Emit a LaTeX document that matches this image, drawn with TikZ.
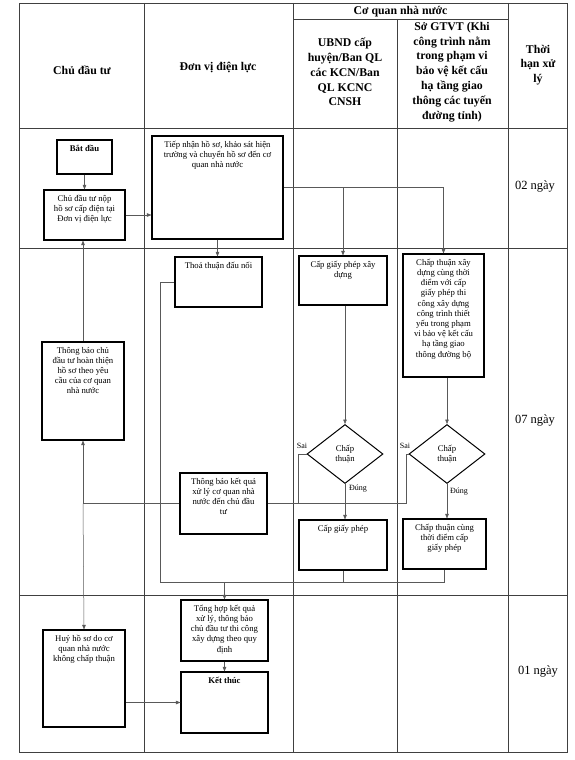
\documentclass[tikz,border=0pt]{standalone}
\usepackage{fontspec}
\setmainfont{Liberation Serif}
\usetikzlibrary{shapes.geometric,arrows.meta}

\newcommand{\boxtext}[3]{\parbox[c][#2][t]{#1}{\centering #3}}

\tikzset{
  tablerule/.style={draw=black!75, line width=0.8pt},
  headtext/.style={font=\fontsize{11.8}{14.8}\selectfont\bfseries, align=center, inner sep=0pt},
  daytext/.style={font=\fontsize{12.5}{15}\selectfont, inner sep=0pt},
  procbox/.style={draw, line width=1.1pt, inner xsep=3pt, inner ysep=5pt,
    font=\fontsize{8.7}{10.2}\selectfont},
  decision/.style={draw, line width=1pt, diamond, inner sep=0pt,
    minimum width=76pt, minimum height=59pt, align=center,
    font=\fontsize{8.7}{10.2}\selectfont},
  flowline/.style={draw=black!65, line width=0.5pt},
  flow/.style={flowline, -{Triangle[length=4.5pt,width=3.5pt]}},
  smalltext/.style={font=\fontsize{8}{10}\selectfont, inner sep=0pt},
}

\begin{document}
\begin{tikzpicture}[x=1pt, y=-1pt]
        \useasboundingbox (0,0) rectangle (575,760);

        % Table
        \draw[tablerule] (19,3) rectangle (567,752);
        \draw[tablerule] (144,3) -- (144,752);
        \draw[tablerule] (293,3) -- (293,752);
        \draw[tablerule] (397,19) -- (397,752);
        \draw[tablerule] (508,3) -- (508,752);
        \draw[tablerule] (293,19) -- (508,19);
        \draw[tablerule] (19,128) -- (567,128);
        \draw[tablerule] (19,248) -- (567,248);
        \draw[tablerule] (19,595) -- (567,595);

        % Header
        \node[headtext] (hchu) at (82,70) {Chủ đầu tư};
        \node[headtext] (hdien) at (218,67) {Đơn vị điện lực};
        \node[headtext, anchor=base] (hcoquan) at (400.5,15) {Cơ quan nhà nước};
        \node[headtext] (hubnd) at (345,72) {UBND cấp\\huyện/Ban QL\\các KCN/Ban\\QL KCNC\\CNSH};
        \node[headtext] (hsogt) at (452,72) {Sở GTVT (Khi\\công trình nằm\\trong phạm vi\\bảo vệ kết cấu\\hạ tầng giao\\thông các tuyến\\đường tỉnh)};
        \node[headtext] (hthoi) at (538,65) {Thời\\hạn xử\\lý};

        % Time limits
        \node[daytext] (day1) at (535,187) {02 ngày};
        \node[daytext] (day2) at (535,420) {07 ngày};
        \node[daytext] (day3) at (538,671) {01 ngày};

        % Chu dau tu
        \node[procbox] (start) at (84.5,157) {\boxtext{49pt}{24pt}{\bfseries Bắt đầu}};
        \node[procbox] (nop) at (84.5,215) {\boxtext{75pt}{40pt}{Chủ đầu tư nộp\\hồ sơ cấp điện tại\\Đơn vị điện lực}};
        \node[procbox] (hoanthien) at (83,391) {\boxtext{76pt}{88pt}{Thông báo chủ\\đầu tư hoàn thiện\\hồ sơ theo yêu\\cầu của cơ quan\\nhà nước}};
        \node[procbox] (huy) at (84,678.5) {\boxtext{76pt}{87pt}{Huỷ hồ sơ do cơ\\quan nhà nước\\không chấp thuận}};

        % Don vi dien luc
        \node[procbox] (tiepnhan) at (217.5,187.5) {\boxtext{125pt}{93pt}{Tiếp nhận hồ sơ, khảo sát hiện\\trường và chuyển hồ sơ đến cơ\\quan nhà nước}};
        \node[procbox] (thoathuan) at (218.5,282) {\boxtext{81pt}{40pt}{Thoả thuận đấu nối}};
        \node[procbox] (ketqua) at (223.5,503.5) {\boxtext{81pt}{51pt}{Thông báo kết quả\\xử lý cơ quan nhà\\nước đến chủ đầu\\tư}};
        \node[procbox] (tonghop) at (224.5,630.5) {\boxtext{81pt}{51pt}{Tổng hợp kết quả\\xử lý, thông báo\\chủ đầu tư thi công\\xây dựng theo quy\\định}};
        \node[procbox] (ketthuc) at (224.5,702.5) {\boxtext{81pt}{51pt}{\bfseries Kết thúc}};

        % UBND
        \node[procbox] (capphepxd) at (343,280.5) {\boxtext{82pt}{39pt}{Cấp giấy phép xây\\dựng}};
        \node[decision] (duyet1) at (345,454) {Chấp\\thuận};
        \node[procbox] (capphep) at (343,545) {\boxtext{82pt}{40pt}{Cấp giấy phép}};

        % So GTVT
        \node[procbox] (chapthuanxd) at (443.5,315.5) {\boxtext{75pt}{113pt}{Chấp thuận xây\\dựng cùng thời\\điểm với cấp\\giấy phép thi\\công xây dựng\\công trình thiết\\yếu trong phạm\\vi bảo vệ kết cấu\\hạ tầng giao\\thông đường bộ}};
        \node[decision] (duyet2) at (447,454) {Chấp\\thuận};
        \node[procbox] (chapthuancung) at (444.5,544) {\boxtext{77pt}{40pt}{Chấp thuận cùng\\thời điểm cấp\\giấy phép}};

        % Connectors
        \draw[flow] (start) -- (nop);
        \draw[flow] (nop.east) -- (nop.east -| tiepnhan.west);
        \draw[flow] (tiepnhan.south) -- (tiepnhan.south |- thoathuan.north);
        \draw[flow] (tiepnhan.east) -| (chapthuanxd.north);
        \draw[flow] (capphepxd.north |- tiepnhan.east) -- (capphepxd.north);
        \draw[flow] (duyet1.north |- capphepxd.south) -- (duyet1.north);
        \draw[flow] (duyet2.north |- chapthuanxd.south) -- (duyet2.north);
        \draw[flow] (duyet1.south) -- (duyet1.south |- capphep.north);
        \draw[flow] (duyet2.south) -- (duyet2.south |- chapthuancung.north);

        % Sai
        \draw[flowline] (duyet1.west) -- ++(-8,0) |- (ketqua.east);
        \draw[flowline] (duyet2.west) -- ++(-2,0) |- (ketqua.east);
        \draw[flowline] (ketqua.west) -- (hoanthien.south |- ketqua.west) coordinate (split);
        \draw[flow] (split) -- (hoanthien.south);
        \draw[flow] (split) -- (huy.north);
        \draw[flow] (hoanthien.north) -- (hoanthien.north |- nop.south);

        % Merge to Tong hop
        \coordinate (merge) at (160,582);
        \draw[flowline] (thoathuan.west) -| (merge);
        \draw[flowline] (merge) -| (chapthuancung.south);
        \draw[flowline] (capphep.south) -- (capphep.south |- merge);
        \draw[flow] (tonghop.north |- merge) -- (tonghop.north);
        \draw[flow] (tonghop.south) -- (ketthuc.north);
        \draw[flow] (huy.east |- ketthuc.west) -- (ketthuc.west);

        % Labels
        \node[smalltext] (sai1) at (302,446) {Sai};
        \node[smalltext] (sai2) at (405,446) {Sai};
        \node[smalltext] (dung1) at (358,489) {Đúng};
        \node[smalltext] (dung2) at (459,492) {Đúng};
    \end{tikzpicture}
\end{document}
